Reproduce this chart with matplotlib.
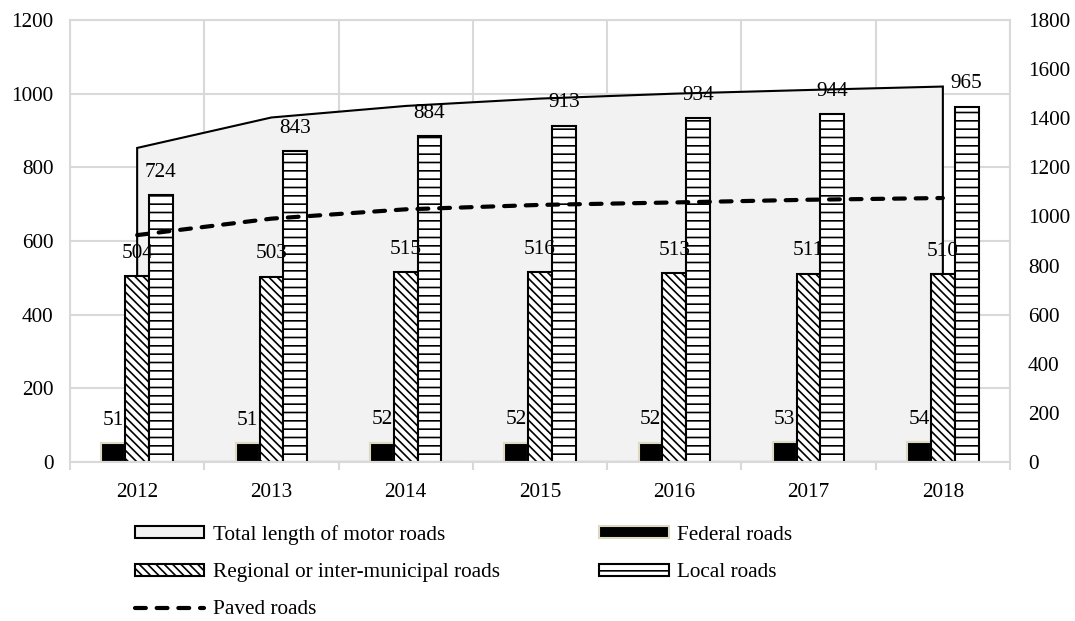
import matplotlib
matplotlib.use("Agg")
import matplotlib.pyplot as plt
from matplotlib.patches import Polygon, Patch
from matplotlib.lines import Line2D
import numpy as np

plt.rcParams['font.family'] = ['Liberation Serif', 'DejaVu Serif']
plt.rcParams['hatch.linewidth'] = 1.2

years = ['2012', '2013', '2014', '2015', '2016', '2017', '2018']
federal = [51, 51, 52, 52, 52, 53, 54]
regional = [504, 503, 515, 516, 513, 511, 510]
local = [724, 843, 884, 913, 934, 944, 965]
total_length = [1279, 1403, 1450, 1480, 1500, 1515, 1529]
paved = [924, 991, 1029, 1047, 1057, 1068, 1075]

left_ticks = [0, 200, 400, 600, 800, 1000, 1200]
right_ticks = [0, 200, 400, 600, 800, 1000, 1200, 1400, 1600, 1800]

FS = 15.3
grid_c = '#d9d9d9'

fig = plt.figure(figsize=(10.75, 6.21), dpi=100)
ax = fig.add_axes([70/1075, 1-462/621, 940/1075, 442/621])
ax2 = ax.twinx()

x = np.arange(len(years))
w = 0.177

ax.set_xlim(-0.5, len(years) - 0.5)
ax.set_ylim(0, 1200)
ax2.set_ylim(0, 1800)

# grid
ax.set_yticks(left_ticks)
ax.set_xticks(x)
ax.set_xticks(np.arange(-0.5, len(years), 1.0), minor=True)
ax.grid(True, axis='y', which='major', color=grid_c, lw=1.5, zorder=0)
ax.grid(True, axis='x', which='minor', color=grid_c, lw=1.5, zorder=0)
ax.set_axisbelow(True)

# area (right-axis scale) drawn beneath bars
verts = [(x[0], 0)] + list(zip(x, total_length)) + [(x[-1], 0)]
area = Polygon(verts, closed=True, facecolor='#f2f2f2', edgecolor='black',
               lw=1.5, transform=ax2.transData, zorder=1.2)
ax.add_patch(area)

# bars
b1 = ax.bar(x - w, federal, w, color='black', edgecolor='#ddd9c3', lw=1.5, zorder=2)
b2 = ax.bar(x, regional, w, color='white', edgecolor='black', lw=1.5,
            hatch='\\\\\\\\', zorder=2)
b3 = ax.bar(x + w, local, w, color='white', edgecolor='black', lw=1.5,
            hatch='--', zorder=2)

for bars, vals in ((b1, federal), (b2, regional), (b3, local)):
    for r, v in zip(bars, vals):
        ax.annotate(str(v), (r.get_x() + r.get_width()/2, r.get_height()),
                    xytext=(0, 16.5), textcoords='offset points',
                    ha='center', va='center', fontsize=FS, zorder=5)

# paved line on right axis
ax2.plot(x, paved, color='black', lw=3, linestyle=(0, (2.6, 2.6)),
         dash_capstyle='round', zorder=3)

# axes styling
for s in ax.spines.values():
    s.set_color(grid_c)
    s.set_linewidth(1.5)
for s in ax2.spines.values():
    s.set_visible(False)

ax.set_xticklabels(years, fontsize=FS)
ax.tick_params(axis='x', which='major', length=0, pad=15)
ax.tick_params(axis='x', which='minor', length=6, color=grid_c, width=1.5)
ax.tick_params(axis='y', length=0, pad=12, labelsize=FS)
ax2.set_yticks(right_ticks)
ax2.tick_params(axis='y', length=0, pad=13, labelsize=FS)

# legend
h_total = Patch(facecolor='#f2f2f2', edgecolor='black', lw=1.5)
h_fed = Patch(facecolor='black', edgecolor='#ddd9c3', lw=1.5)
h_reg = Patch(facecolor='white', edgecolor='black', lw=1.5, hatch='\\\\\\\\')
h_loc = Patch(facecolor='white', edgecolor='black', lw=1.5, hatch='--')
h_pav = Line2D([], [], color='black', lw=3, linestyle=(0, (2.6, 2.6)),
               dash_capstyle='round')

handles = [h_total, h_reg, h_pav, h_fed, h_loc]
labels = ['Total length of motor roads', 'Regional or inter-municipal roads',
          'Paved roads', 'Federal roads', 'Local roads']
fig.legend(handles, labels, ncol=2, loc='upper left',
           bbox_to_anchor=(135/1075, 1-525/621), frameon=False,
           fontsize=FS, handlelength=3.25, handleheight=0.5,
           handletextpad=0.4, labelspacing=0.86, columnspacing=4.7,
           borderpad=0, borderaxespad=0)

fig.savefig('out.png', dpi=100)
